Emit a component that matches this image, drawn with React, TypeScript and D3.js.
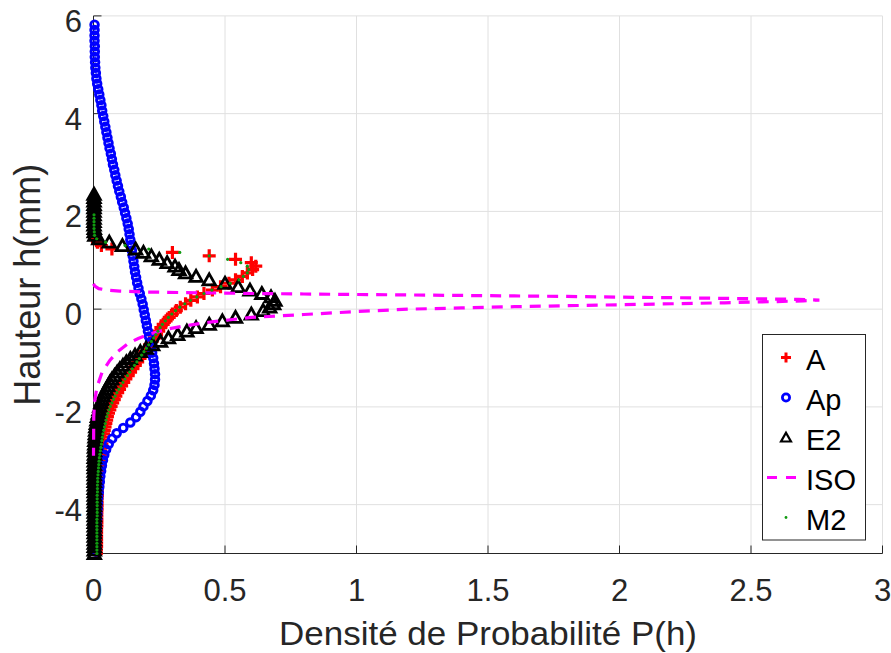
import React from 'react';
import * as d3 from 'd3';

// ---------- data ----------
const xTicks = [0, 0.5, 1, 1.5, 2, 2.5, 3];
const xTickLabels = ['0', '0.5', '1', '1.5', '2', '2.5', '3'];
const yTicks = [-4, -2, 0, 2, 4, 6];
const yTickLabels = ['-4', '-2', '0', '2', '4', '6'];

const seriesNames = ['A', 'Ap', 'E2', 'ISO', 'M2'];

// Ap: sampled from h = 5.82 downward, step 0.11
const apTop = 5.82;
const apStep = 0.11;
const apX = [
  0.004, 0.004, 0.004, 0.004, 0.005, 0.005, 0.005, 0.006, 0.007, 0.009,
  0.011, 0.014, 0.018, 0.022, 0.026, 0.030, 0.033, 0.037, 0.041, 0.045,
  0.049, 0.053, 0.057, 0.061, 0.066, 0.070, 0.074, 0.079, 0.083, 0.088,
  0.093, 0.098, 0.104, 0.109, 0.115, 0.120, 0.125, 0.130, 0.134, 0.137,
  0.140, 0.143, 0.146, 0.149, 0.152, 0.155, 0.158, 0.162, 0.166, 0.171,
  0.176, 0.182, 0.187, 0.191, 0.195, 0.199, 0.203, 0.207, 0.211, 0.215,
  0.219, 0.223, 0.227, 0.230, 0.232, 0.234, 0.234, 0.232, 0.227, 0.218,
  0.205, 0.190, 0.178, 0.162, 0.140, 0.113, 0.088, 0.071, 0.058, 0.048,
  0.041, 0.036, 0.032, 0.029, 0.026, 0.024, 0.022, 0.020, 0.018, 0.017,
  0.016, 0.015, 0.014, 0.013, 0.012, 0.011, 0.010, 0.010, 0.009,
];

// A, E2, M2: sampled from h = 2.35 downward, step 0.07 (index 0..105)
const gridTop = 2.35;
const gridStep = 0.07;

const e2X = [
  0.002, 0.002, 0.002, 0.002, 0.002, 0.002, 0.002, 0.002, 0.002, 0.002,
  0.003, 0.003, 0.005, 0.02, 0.06, 0.11, 0.16, 0.19, 0.22, 0.25,
  0.28, 0.31, 0.325, 0.35, 0.39, 0.44, 0.50, 0.55, 0.595, 0.64,
  0.675, 0.69, 0.685, 0.67, 0.645, 0.60, 0.54, 0.49, 0.44, 0.39,
  0.355, 0.32, 0.285, 0.255, 0.225, 0.20, 0.178, 0.158, 0.14, 0.125,
  0.112, 0.10, 0.09, 0.08, 0.07, 0.062, 0.055, 0.048, 0.042, 0.037,
  0.032, 0.028, 0.024, 0.021, 0.018, 0.015, 0.013, 0.011, 0.009, 0.008,
  0.007, 0.006, 0.005, 0.005, 0.004, 0.004, 0.004, 0.003, 0.003, 0.003,
  0.003, 0.003, 0.003, 0.003, 0.003, 0.003, 0.003, 0.003, 0.003, 0.003,
  0.003, 0.003, 0.003, 0.003, 0.003, 0.003, 0.003, 0.003, 0.003, 0.003,
  0.003, 0.003, 0.003, 0.003, 0.003, 0.003,
];

const aStart = 13;
const aX = [
  0.005, 0.015, 0.03, 0.07, 0.30, 0.44, 0.54, 0.60, 0.617, 0.605,
  0.585, 0.566, 0.54, 0.515, 0.483, 0.452, 0.42, 0.395, 0.37, 0.35,
  0.33, 0.315, 0.30, 0.288, 0.276, 0.265, 0.256, 0.248, 0.24, 0.232,
  0.223, 0.213, 0.204, 0.195, 0.186, 0.177, 0.168, 0.159, 0.150, 0.141,
  0.132, 0.123, 0.115, 0.107, 0.099, 0.092, 0.085, 0.079, 0.073, 0.067,
  0.062, 0.057, 0.053, 0.050, 0.047, 0.044, 0.041, 0.038, 0.036, 0.034,
  0.032, 0.030, 0.028, 0.026, 0.024, 0.022, 0.021, 0.020, 0.019, 0.018,
  0.017, 0.016, 0.016, 0.015, 0.015, 0.015, 0.014, 0.014, 0.014, 0.014,
  0.013, 0.013, 0.013, 0.013, 0.013, 0.012, 0.012, 0.012, 0.012, 0.012,
  0.012, 0.011, 0.011,
];

const m2Start = 6;
const m2X = [
  0.002, 0.002, 0.002, 0.002, 0.002, 0.003, 0.004,
  0.012, 0.046, 0.12, 0.21, 0.328, 0.44, 0.51, 0.56, 0.585, 0.59,
  0.585, 0.57, 0.553, 0.52, 0.485, 0.45, 0.42, 0.393, 0.368, 0.347,
  0.328, 0.312, 0.298, 0.285, 0.273, 0.262, 0.253, 0.245, 0.237, 0.229,
  0.220, 0.210, 0.201, 0.192, 0.183, 0.174, 0.165, 0.156, 0.147, 0.138,
  0.129, 0.120, 0.112, 0.104, 0.096, 0.089, 0.082, 0.076, 0.070, 0.064,
  0.059, 0.055, 0.051, 0.048, 0.045, 0.042, 0.039, 0.036, 0.034, 0.032,
  0.030, 0.028, 0.026, 0.024, 0.022, 0.021, 0.020, 0.019, 0.018, 0.017,
  0.016, 0.016, 0.015, 0.015, 0.015, 0.014, 0.014, 0.014, 0.014, 0.014,
  0.014, 0.014, 0.013, 0.013, 0.013, 0.013, 0.013, 0.013, 0.013, 0.013,
  0.013, 0.013, 0.013,
];

// ISO: dashed curve
const isoX = [
  0.0, 0.005, 0.02, 0.05, 0.1, 0.2, 0.4, 0.6, 0.8, 1.0,
  1.2, 1.4, 1.6, 1.8, 2.0, 2.2, 2.4, 2.55, 2.68, 2.76,
  2.7, 2.6, 2.4, 2.2, 2.0, 1.8, 1.6, 1.4, 1.2, 1.0,
  0.8, 0.6, 0.45, 0.35, 0.28, 0.22, 0.17, 0.13, 0.09, 0.062,
  0.032, 0.013, 0.004, 0.001, 0.0,
];
const isoH = [
  0.52, 0.47, 0.42, 0.39, 0.37, 0.35, 0.335, 0.32, 0.31, 0.30,
  0.29, 0.28, 0.27, 0.26, 0.245, 0.235, 0.22, 0.21, 0.20, 0.185,
  0.17, 0.155, 0.13, 0.11, 0.09, 0.07, 0.05, 0.025, 0.0, -0.05,
  -0.11, -0.17, -0.26, -0.34, -0.41, -0.5, -0.6, -0.71, -0.88, -1.05,
  -1.3, -1.6, -1.9, -2.2, -3.0,
];

// ---------- helpers ----------
type Pt = { x: number; h: number };
const gridH = (i: number) => +(gridTop - i * gridStep).toFixed(3);
const apPts: Pt[] = apX.map((x, i) => ({ x, h: +(apTop - i * apStep).toFixed(3) }));
const e2Pts: Pt[] = e2X.map((x, i) => ({ x, h: gridH(i) }));
const aPts: Pt[] = aX.map((x, i) => ({ x, h: gridH(aStart + i) }));
const m2Pts: Pt[] = m2X.map((x, i) => ({ x, h: gridH(m2Start + i) }));
const isoPts: Pt[] = isoX.map((x, i) => ({ x, h: isoH[i] }));

const W = 891;
const H = 653;
const FONT = "'Liberation Sans', Arial, Helvetica, sans-serif";
const AX = '#262626';

const RED = '#ff0000';
const BLUE = '#0000ff';
const BLACK = '#000000';
const MAGENTA = '#ff00ff';
const GREEN = '#119a11';

const plusPath = 'M-6.5,0H6.5M0,-6.5V6.5';
const triPath = 'M0,-6L6.2,5L-6.2,5Z';

export default function App() {
  const x = d3.scaleLinear().domain([0, 3]).range([93.5, 882.5]);
  const y = d3.scaleLinear().domain([-5, 6]).range([553.5, 15.9]);
  const x0 = x(0);
  const x1 = x(3);
  const yb = y(-5);
  const yt = y(6);

  const isoLine = d3
    .line<Pt>()
    .x((d) => x(d.x))
    .y((d) => y(d.h));

  const lgX = 762.5;
  const lgY = 334.5;
  const lgW = 103;
  const lgH = 205.5;

  const legendMarker = (name: string, cx: number, cy: number) => {
    switch (name) {
      case 'A':
        return <path d="M-5,0H5M0,-5V5" transform={`translate(${cx},${cy})`} stroke={RED} strokeWidth={3} fill="none" />;
      case 'Ap':
        return <circle cx={cx} cy={cy} r={3.6} stroke={BLUE} strokeWidth={2.8} fill="none" />;
      case 'E2':
        return <path d={triPath} transform={`translate(${cx},${cy}) scale(0.8)`} stroke={BLACK} strokeWidth={2.8} fill="none" />;
      case 'ISO':
        return <line x1={cx - 19} x2={cx + 11} y1={cy} y2={cy} stroke={MAGENTA} strokeWidth={3} strokeDasharray="10,9" />;
      default:
        return <circle cx={cx} cy={cy} r={1.4} fill={GREEN} />;
    }
  };

  return (
    <svg
      width={W}
      height={H}
      viewBox={`0 0 ${W} ${H}`}
      style={{ position: 'absolute', left: 0, top: 0, background: '#fff' }}
      fontFamily={FONT}
    >
      <rect x={0} y={0} width={W} height={H} fill="#fff" />

      {/* grid */}
      <g stroke="#e0e0e0" strokeWidth={1}>
        {xTicks.filter((t) => t > 0).map((t) => (
          <line key={'gx' + t} x1={x(t)} x2={x(t)} y1={yb} y2={yt} />
        ))}
        {yTicks.map((t) => (
          <line key={'gy' + t} x1={x0} x2={x1} y1={y(t)} y2={y(t)} />
        ))}
      </g>

      {/* axes */}
      <g stroke={AX} strokeWidth={1}>
        <line x1={x0} x2={x0} y1={yt} y2={yb} />
        <line x1={x0} x2={x1} y1={yb} y2={yb} />
        {xTicks.map((t) => (
          <line key={'tx' + t} x1={x(t)} x2={x(t)} y1={yb} y2={yb - 8} />
        ))}
        {yTicks.map((t) => (
          <line key={'ty' + t} x1={x0} x2={x0 + 8} y1={y(t)} y2={y(t)} />
        ))}
      </g>

      {/* tick labels */}
      <g fill={AX} fontSize={31}>
        {xTicks.map((t, i) => (
          <text key={'lx' + t} x={x(t)} y={600.5} textAnchor="middle">
            {xTickLabels[i]}
          </text>
        ))}
        {yTicks.map((t, i) => (
          <text key={'ly' + t} x={82} y={y(t) + 16} textAnchor="end">
            {yTickLabels[i]}
          </text>
        ))}
      </g>

      {/* axis labels */}
      <text x={(x0 + x1) / 2} y={645} textAnchor="middle" fontSize={34} fill={AX} textLength={418} lengthAdjust="spacingAndGlyphs">
        Densité de Probabilité P(h)
      </text>
      <text
        transform={`translate(40,${(yt + yb) / 2}) rotate(-90)`}
        textAnchor="middle"
        fontSize={36}
        fill={AX}
      >
        Hauteur h(mm)
      </text>

      {/* series A */}
      <g stroke={RED} strokeWidth={3.2} fill="none">
        {aPts.map((d, i) => (
          <path key={'a' + i} d={plusPath} transform={`translate(${x(d.x)},${y(d.h)})`} />
        ))}
      </g>

      {/* series Ap */}
      <g stroke={BLUE} strokeWidth={2.9} fill="none">
        {apPts.map((d, i) => (
          <circle key={'ap' + i} cx={x(d.x)} cy={y(d.h)} r={3.8} />
        ))}
      </g>

      {/* series E2 */}
      <g stroke={BLACK} strokeWidth={2.8} fill="none" strokeLinejoin="miter">
        {e2Pts.map((d, i) => (
          <path key={'e' + i} d={triPath} transform={`translate(${x(d.x)},${y(d.h)})`} />
        ))}
      </g>

      {/* series ISO */}
      <path d={isoLine(isoPts) || ''} stroke={MAGENTA} strokeWidth={3.2} fill="none" strokeDasharray="11,8" />

      {/* series M2 */}
      <g fill={GREEN}>
        {m2Pts.map((d, i) => (
          <circle key={'m' + i} cx={x(d.x)} cy={y(d.h)} r={1.6} />
        ))}
      </g>

      {/* legend */}
      <g>
        <rect x={lgX} y={lgY} width={lgW} height={lgH} fill="#fff" stroke={AX} strokeWidth={1} />
        {seriesNames.map((name, i) => {
          const cy = 357.5 + i * 40;
          return (
            <g key={'lg' + name}>
              {legendMarker(name, 786, cy)}
              <text x={806} y={cy + 12.5} fontSize={29} fill="#000">
                {name}
              </text>
            </g>
          );
        })}
      </g>
    </svg>
  );
}
